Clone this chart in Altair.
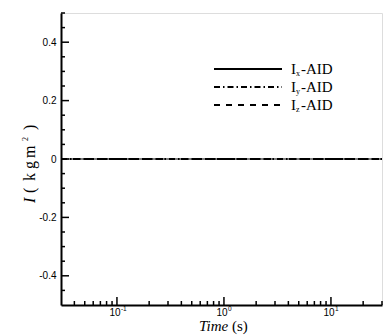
import altair as alt
import pandas as pd

# ---- data ----
time_s = [0.03, 0.1, 1.0, 10.0, 30.0]
ix_aid = [0.0, 0.0, 0.0, 0.0, 0.0]
iy_aid = [0.0, 0.0, 0.0, 0.0, 0.0]
iz_aid = [0.0, 0.0, 0.0, 0.0, 0.0]
series_names = ["Ix-AID", "Iy-AID", "Iz-AID"]
series_dash = [[1, 0], [6, 3, 1.5, 3], [6, 6]]
series_width = [1.2, 2, 2]

y_major = [-0.4, -0.2, 0.0, 0.2, 0.4]
y_minor = [-0.45, -0.35, -0.3, -0.25, -0.15, -0.1, -0.05,
           0.05, 0.1, 0.15, 0.25, 0.3, 0.35, 0.45, 0.5]
x_major = [0.1, 1.0, 10.0]
x_exponents = ["-1", "0", "1"]
x_minor = [0.04, 0.05, 0.06, 0.07, 0.08, 0.09,
           0.2, 0.3, 0.4, 0.5, 0.6, 0.7, 0.8, 0.9,
           2, 3, 4, 5, 6, 7, 8, 9, 20, 30]

W, H = 321, 292
SERIF = "Liberation Serif"
SANS = "Liberation Sans"

xscale = alt.Scale(type="log", domain=[0.03, 30], nice=False)
yscale = alt.Scale(domain=[-0.5, 0.5], nice=False, zero=False)

xaxis = alt.Axis(values=x_major, ticks=False, grid=False, title=None, labels=False,
                 domainColor="black", domainWidth=2)
yaxis = alt.Axis(values=y_major, ticks=False, grid=False, title=None,
                 domainColor="black", domainWidth=2, labelFont=SANS,
                 labelFontSize=10, labelColor="black", labelPadding=5,
                 labelExpr="datum.value == 0 ? '0' : (datum.value < 0 ? '-' + format(-datum.value, '.1f') : format(datum.value, '.1f'))")

rows = []
for name, vals in zip(series_names, [ix_aid, iy_aid, iz_aid]):
    for t, v in zip(time_s, vals):
        rows.append({"t": t, "I": v, "series": name})
df = pd.DataFrame(rows)

X = alt.X("t:Q", scale=xscale, axis=xaxis, title=None)
Y = alt.Y("I:Q", scale=yscale, axis=yaxis, title=None)

layers = []
for name, dash, sw in zip(series_names, series_dash, series_width):
    layers.append(
        alt.Chart(df[df.series == name]).mark_line(color="black", strokeWidth=sw, strokeDash=dash)
        .encode(x=X, y=Y)
    )

# ticks pointing inward
ymaj = alt.Chart(pd.DataFrame({"I": y_major})).mark_rule(color="black", strokeWidth=1.5).encode(
    y=Y, x=alt.value(0), x2=alt.value(8))
ymin = alt.Chart(pd.DataFrame({"I": y_minor})).mark_rule(color="black", strokeWidth=1.5).encode(
    y=Y, x=alt.value(0), x2=alt.value(4))
xmaj = alt.Chart(pd.DataFrame({"t": x_major})).mark_rule(color="black", strokeWidth=1.5).encode(
    x=X, y=alt.value(H), y2=alt.value(H - 8))
xmin = alt.Chart(pd.DataFrame({"t": x_minor})).mark_rule(color="black", strokeWidth=1.5).encode(
    x=X, y=alt.value(H), y2=alt.value(H - 4))
layers += [ymaj, ymin, xmaj, xmin]

# x tick labels: "10" with a superscript exponent
xlab = pd.DataFrame({"t": x_major, "e": x_exponents})
layers.append(alt.Chart(xlab).mark_text(text="10", font=SANS, fontSize=10, align="center",
                                        baseline="alphabetic", dx=-2, color="black")
              .encode(x=X, y=alt.value(H + 11)))
layers.append(alt.Chart(xlab).mark_text(font=SANS, fontSize=6.5, align="left",
                                        baseline="alphabetic", dx=4, color="black")
              .encode(x=X, y=alt.value(H + 6), text="e:N"))

one = pd.DataFrame({"k": [0]})

def txt(s, x, y, size, style="normal", angle=0, align="left", baseline="alphabetic", font=SERIF):
    return alt.Chart(one).mark_text(text=s, font=font, fontSize=size, fontStyle=style,
                                    angle=angle, align=align, baseline=baseline,
                                    color="black").encode(x=alt.value(x), y=alt.value(y))

# legend
leg_y = [56, 74, 92]
for name, dash, ly in zip(series_names, series_dash, leg_y):
    layers.append(alt.Chart(one).mark_rule(color="black", strokeWidth=2, strokeDash=dash).encode(
        x=alt.value(153), x2=alt.value(221), y=alt.value(ly)))
    layers.append(txt(name[0], 230, ly + 5, 15))
    layers.append(txt(name[1], 235, ly + 7, 8))
    layers.append(txt(name[2:], 240, ly + 5, 15))

# axis titles
layers.append(txt("Time", 138, 318, 15, style="italic"))
layers.append(txt("(s)", 171, 318, 15))
ty_x = -26
layers.append(txt("I", ty_x, 190, 16, style="italic", angle=270))
layers.append(txt("(", ty_x, 180, 16, angle=270))
layers.append(txt("k", ty_x, 168, 16, angle=270))
layers.append(txt("g", ty_x, 156, 16, angle=270))
layers.append(txt("m", ty_x, 145, 16, angle=270))
layers.append(txt("2", ty_x - 7, 128, 8, angle=270))
layers.append(txt(")", ty_x, 117, 16, angle=270))

chart = alt.layer(*layers).properties(
    width=W, height=H,
    autosize=alt.AutoSizeParams(type="none"),
    padding={"left": 61, "top": 13, "right": 3, "bottom": 30},
).configure_view(stroke=None).configure(background="white")

chart.save("out.html", embed_options={"renderer": "svg", "actions": False})
